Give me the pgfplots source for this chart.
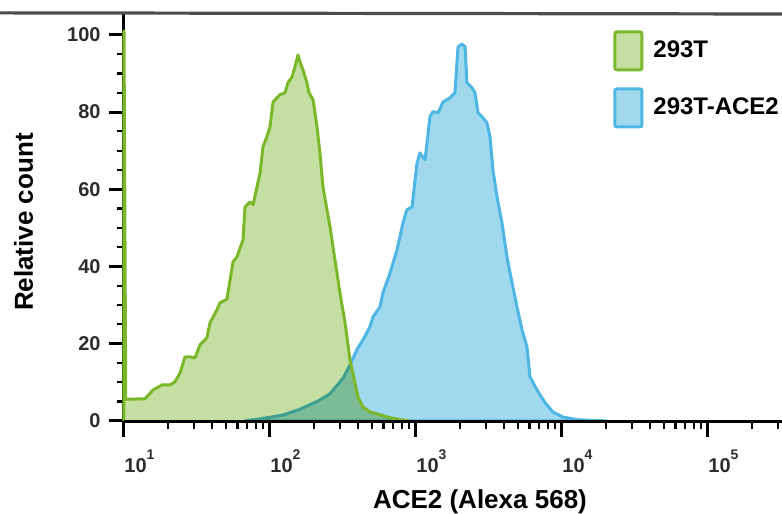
\documentclass[border=0pt]{standalone}
\usepackage{pgfplots}
\pgfplotsset{compat=1.18}
\usepackage{pgfplotstable}
\usepackage{fontspec}
\setmainfont{Liberation Sans}

\definecolor{gline}{RGB}{122,184,42}
\definecolor{gfill}{RGB}{197,223,162}
\definecolor{bline}{RGB}{78,182,228}
\definecolor{bfill}{RGB}{160,216,238}
\definecolor{ticktext}{RGB}{45,45,45}

% x = log10 of the intensity, y = relative count
\pgfplotstableread{
L y
1.000 0
1.000 101.0
1.012 5.6
1.144 5.7
1.199 8.0
1.260 9.3
1.315 9.3
1.349 10.1
1.384 12.4
1.418 16.6
1.452 16.6
1.486 16.3
1.521 19.7
1.568 21.5
1.589 25.4
1.637 28.8
1.658 30.6
1.705 31.5
1.747 41.2
1.774 42.5
1.815 46.9
1.829 55.4
1.863 56.7
1.884 56.0
1.932 64.2
1.952 71.0
1.979 73.6
2.000 76.2
2.021 82.6
2.068 84.5
2.103 85.0
2.123 87.6
2.151 89.1
2.171 91.7
2.192 94.8
2.205 93.0
2.226 90.9
2.253 87.6
2.267 85.0
2.295 83.2
2.322 76.2
2.342 69.4
2.363 60.6
2.390 54.7
2.411 50.3
2.445 41.7
2.479 33.2
2.514 25.4
2.548 15.8
2.582 9.8
2.603 6.2
2.637 3.6
2.685 2.3
2.753 1.6
2.822 0.8
2.911 0.2
2.959 0
}\greendata

\pgfplotstableread{
L y
1.829 0
1.932 0.5
2.089 1.5
2.205 3.0
2.322 5.0
2.411 7.0
2.500 11.0
2.548 14.5
2.596 18.5
2.637 21.0
2.685 24.4
2.705 26.9
2.753 29.5
2.774 33.2
2.822 38.3
2.870 44.3
2.911 51.3
2.938 54.7
2.973 55.4
3.007 66.8
3.027 69.4
3.062 67.6
3.096 78.8
3.116 80.1
3.151 79.8
3.185 82.6
3.233 83.7
3.267 85.0
3.288 96.9
3.315 97.6
3.336 96.9
3.349 87.6
3.384 86.3
3.404 85.0
3.425 79.8
3.459 78.5
3.486 77.2
3.507 73.6
3.527 65.0
3.555 58.0
3.589 51.3
3.623 42.5
3.658 35.8
3.692 29.5
3.726 23.6
3.760 19.2
3.781 11.4
3.829 8.0
3.884 4.7
3.938 2.3
4.007 1.0
4.103 0.3
4.212 0.1
4.308 0
}\bluedata

\newcommand{\dec}[1]{10\raisebox{6.5pt}{\fontsize{7}{8}\selectfont #1}}

\begin{document}
\begin{tikzpicture}
\begin{axis}[
  at={(0,0)}, anchor=south west,
  scale only axis, width=329pt, height=204pt,
  xmin=1, xmax=5.507, ymin=-0.3, ymax=105.4,
  clip=false,
  axis line style={draw=none},
  tick align=outside, xtick pos=bottom, ytick pos=left,
  xtick={1,2,3,4,5},
  xticklabels={\dec{1},\dec{2},\dec{3},\dec{4},\dec{5}},
  minor xtick={1.301,1.477,1.602,1.699,1.778,1.845,1.903,1.954,
    2.301,2.477,2.602,2.699,2.778,2.845,2.903,2.954,
    3.301,3.477,3.602,3.699,3.778,3.845,3.903,3.954,
    4.301,4.477,4.602,4.699,4.778,4.845,4.903,4.954,
    5.301,5.477},
  ytick={0,20,40,60,80,100}, minor y tick num=3,
  /pgf/number format/assume math mode=true,
  major tick length=7.5pt, minor tick length=3.5pt,
  every major tick/.style={black, line width=1.5pt},
  every minor tick/.style={black, line width=1.1pt},
  tick label style={font=\fontsize{10}{12}\selectfont\bfseries, text=ticktext},
  yticklabel style={anchor=east, inner sep=0pt, xshift=-4pt},
  xticklabel style={anchor=base west, inner sep=0pt, yshift=-17.5pt},
  xlabel={ACE2 (Alexa 568)}, ylabel={Relative count},
  label style={font=\fontsize{13}{15}\selectfont\bfseries},
  xlabel style={at={(axis description cs:0.541,-0.2108)}, anchor=base},
  ylabel style={at={(axis description cs:-0.1383,0.49)}, anchor=base},
  legend style={at={(axis description cs:0.7432,0.9608)}, anchor=north west,
    draw=none, fill=none, inner sep=0pt, row sep=8pt, column sep=3pt,
    font=\fontsize{12}{14}\selectfont\bfseries},
  legend cell align=left,
]
\draw[line width=1.5pt, black] (rel axis cs:0,0) -- (rel axis cs:0,1);

\addplot[forget plot, draw=bline, line width=1.5pt, line join=round, fill=bfill]
  table[x=L, y=y] {\bluedata} \closedcycle;
\addplot[forget plot, draw=none, fill=gfill, blend mode=multiply]
  table[x=L, y=y] {\greendata} \closedcycle;
\addplot[forget plot, draw=gline, line width=1.5pt, line join=round]
  table[x=L, y=y] {\greendata};

\draw[line width=1.5pt, black] (rel axis cs:0,0) -- (rel axis cs:1,0);
\draw[line width=1.6pt, black!70] (rel axis cs:0,1) ++(-3pt,0) -- (rel axis cs:1,1);

\addlegendimage{legend image code/.code={\draw[line width=1.5pt, draw=gline, fill=gfill, rounded corners=1pt] (0pt,-9.5pt) rectangle (13.5pt,9.5pt);}}
\addlegendentry{293T}
\addlegendimage{legend image code/.code={\draw[line width=1.5pt, draw=bline, fill=bfill, rounded corners=1pt] (0pt,-9.5pt) rectangle (13.5pt,9.5pt);}}
\addlegendentry{293T-ACE2}
\end{axis}
\pgfresetboundingbox
\path[use as bounding box] (-62pt,-46pt) rectangle (329pt,211pt);
\end{tikzpicture}
\end{document}
